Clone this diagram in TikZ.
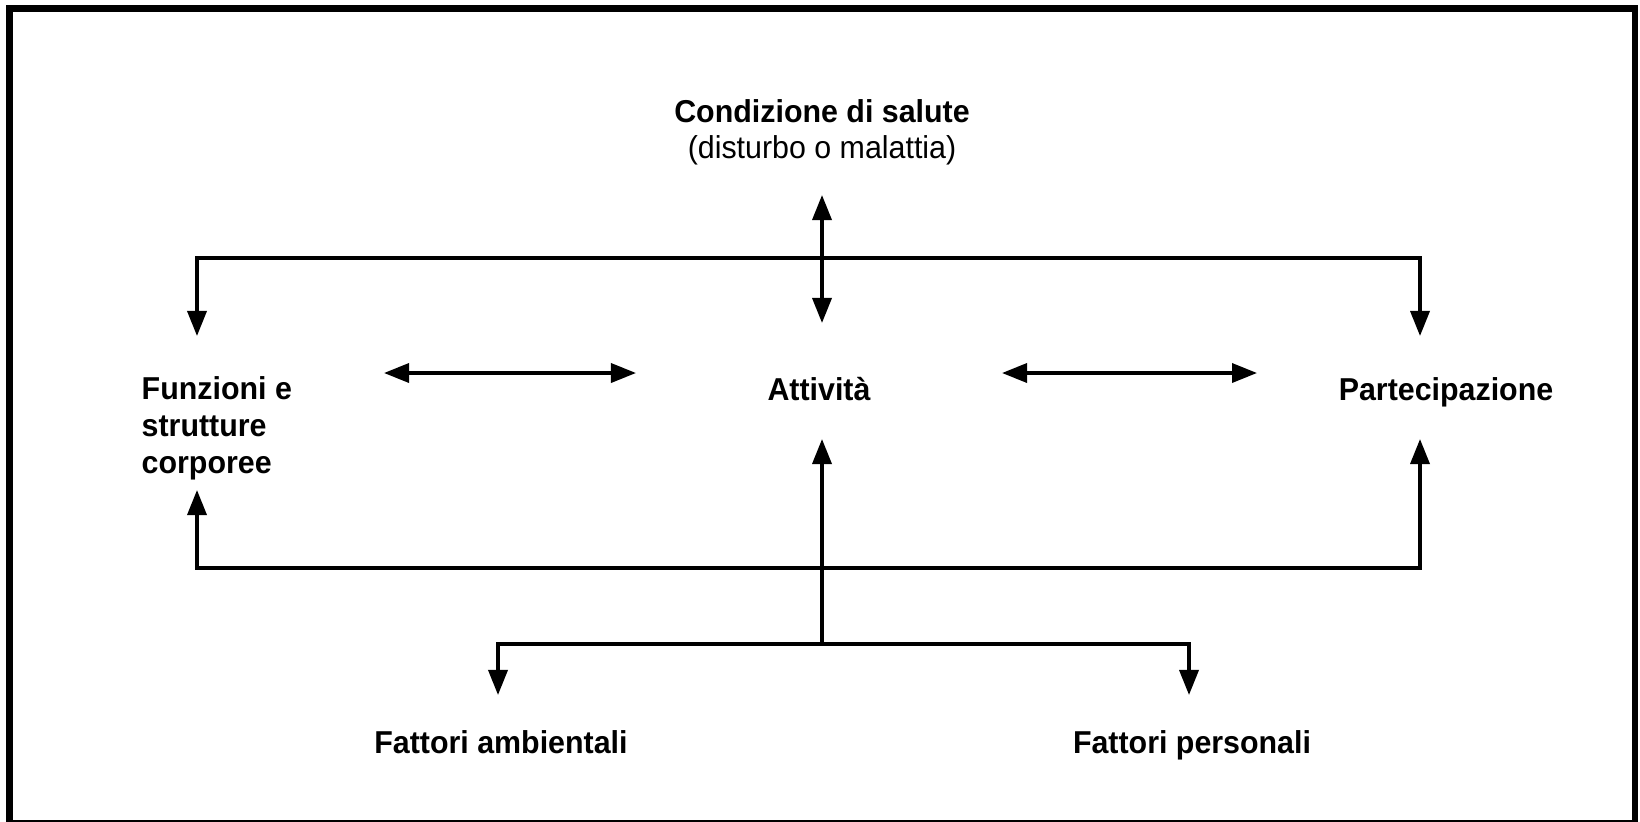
\documentclass[tikz,border=0pt]{standalone}
\usepackage{fontspec}
\setmainfont[FakeStretch=0.96]{Liberation Sans}
\usetikzlibrary{arrows.meta}

\tikzset{
  txt/.style={font=\fontsize{9}{10.4}\selectfont\bfseries, inner sep=0pt},
  note/.style={font=\fontsize{9}{10.4}\selectfont, inner sep=0pt},
  link/.style={line width=0.035cm, -{Triangle[length=0.25cm,width=0.19cm]}},
  twoway/.style={line width=0.035cm, {Triangle[length=0.25cm,width=0.19cm]}-{Triangle[length=0.25cm,width=0.19cm]}},
}

\begin{document}
\begin{tikzpicture}[x=0.01cm, y=-0.01cm]
      \useasboundingbox (0,0) rectangle (1640,821);
      \draw[line width=0.06cm] (9.5,8.5) rectangle (1635,823);

      % texts
      \node[txt, anchor=base] (salute) at (822,122) {Condizione di salute};
      \node[note, anchor=base] (disturbo) at (822,158) {(disturbo o malattia)};
      \node[txt, anchor=base west, align=left] (funzioni) at (141,473) {Funzioni e\\strutture\\corporee};
      \node[txt, anchor=base] (attivita) at (819,400) {Attività};
      \node[txt, anchor=base] (partecipazione) at (1446,400) {Partecipazione};
      \node[txt, anchor=base] (ambientali) at (501,753) {Fattori ambientali};
      \node[txt, anchor=base] (personali) at (1192,753) {Fattori personali};

      % arrow ends
      \coordinate (saluteTip) at (822,195);
      \coordinate (attivitaTop) at (822,323);
      \coordinate (topMid) at (822,258);
      \coordinate (funzioniTop) at (197,336);
      \coordinate (partTop) at (1420,336);
      \coordinate (leftA) at (384,373);
      \coordinate (leftB) at (636,373);
      \coordinate (rightA) at (1002,373);
      \coordinate (rightB) at (1257,373);
      \coordinate (attivitaBot) at (822,439);
      \coordinate (botMid) at (822,568);
      \coordinate (funzioniBot) at (197,490);
      \coordinate (partBot) at (1420,439);
      \coordinate (fork) at (822,644);
      \coordinate (ambTip) at (498,695);
      \coordinate (perTip) at (1189,695);

      % connectors
      \draw[twoway] (saluteTip) -- (attivitaTop);
      \draw[link] (topMid) -| (funzioniTop);
      \draw[link] (topMid) -| (partTop);
      \draw[twoway] (leftA) -- (leftB);
      \draw[twoway] (rightA) -- (rightB);
      \draw[link] (fork) -- (attivitaBot);
      \draw[link] (botMid) -| (funzioniBot);
      \draw[link] (botMid) -| (partBot);
      \draw[link] (fork) -| (ambTip);
      \draw[link] (fork) -| (perTip);
\end{tikzpicture}
\end{document}
